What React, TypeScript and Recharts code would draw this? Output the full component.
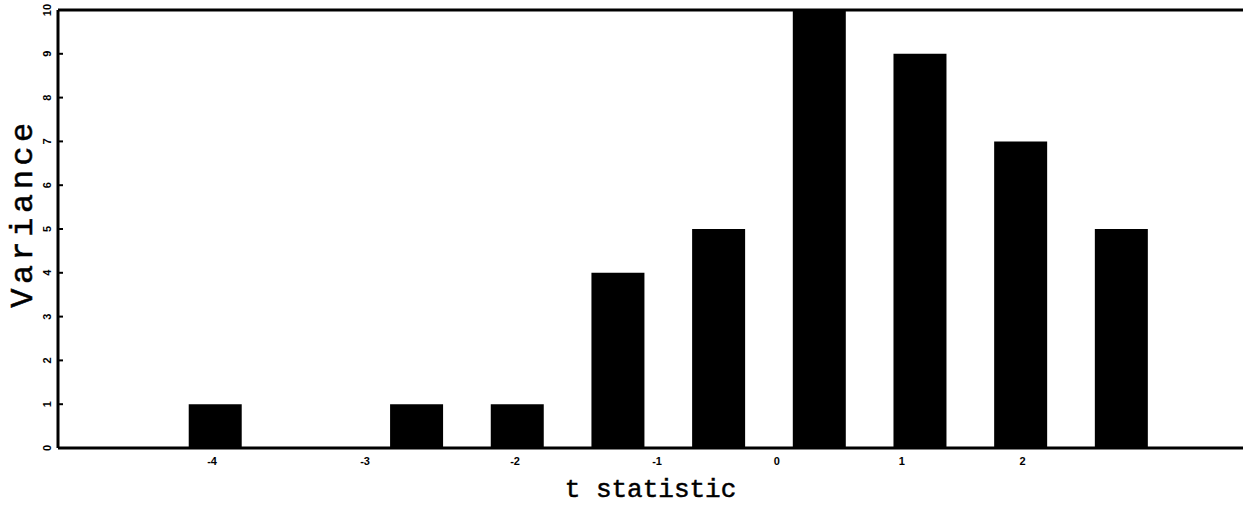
import React from 'react';
import { BarChart, Bar, XAxis, YAxis, ReferenceLine } from 'recharts';

// Bins are drawn at evenly spaced slots (0..9), as in the original figure
const binSlots = [0, 1, 2, 3, 4, 5, 6, 7, 8, 9];
const varianceValues = [1, 0, 1, 1, 4, 5, 10, 9, 7, 5];

// t-statistic tick labels and where they fall in slot units
const xTickSlots = [-0.03, 1.49, 2.98, 4.39, 5.58, 6.82, 8.02];
const xTickLabels = ['-4', '-3', '-2', '-1', '0', '1', '2'];

const yTicks = [0, 1, 2, 3, 4, 5, 6, 7, 8, 9, 10];

const data = binSlots.map((slot, i) => ({ slot, variance: varianceValues[i] }));

const XTick = (props: any) => {
  const { x, y, payload } = props;
  const idx = xTickSlots.indexOf(payload.value);
  return (
    <text
      x={x}
      y={y}
      dy={9}
      textAnchor="middle"
      fontSize={11}
      fontWeight="bold"
      fontFamily="Liberation Sans"
      fill="#000"
    >
      {idx >= 0 ? xTickLabels[idx] : ''}
    </text>
  );
};

const YTick = (props: any) => {
  const { x, y, payload } = props;
  const lx = x - 3;
  return (
    <g>
      <line x1={x + 8} x2={x + 13} y1={y} y2={y} stroke="#000" strokeWidth={2} />
      <text
        x={lx}
        y={y}
        transform={`rotate(-90, ${lx}, ${y})`}
        textAnchor="middle"
        dominantBaseline="central"
        fontSize={11}
        fontWeight="bold"
        fontFamily="Liberation Sans"
        fill="#000"
      >
        {payload.value}
      </text>
    </g>
  );
};

const YTitle = (props: any) => {
  const vb = props.viewBox || { x: 0, y: 10, width: 58, height: 438 };
  const cx = vb.x + 32;
  const cy = vb.y + vb.height / 2 - 16;
  return (
    <text
      x={cx}
      y={cy}
      transform={`rotate(-90, ${cx}, ${cy})`}
      textAnchor="middle"
      fontSize={32}
      letterSpacing={4.5}
      fontFamily="Liberation Mono"
      fill="#000"
      stroke="#000"
      strokeWidth={0.5}
    >
      Variance
    </text>
  );
};

export default function App() {
  return (
    <div style={{ position: 'absolute', left: 0, top: 0, background: '#fff' }}>
      <BarChart
        width={1243}
        height={506}
        data={data}
        margin={{ top: 10, right: 0, bottom: 0, left: 0 }}
      >
        <XAxis
          dataKey="slot"
          type="number"
          domain={[-1.56, 10.21]}
          ticks={xTickSlots}
          allowDataOverflow
          height={58}
          axisLine={{ stroke: '#000', strokeWidth: 3 }}
          tickLine={false}
          tick={<XTick />}
          interval={0}
          label={{
            value: 't statistic',
            position: 'insideBottom',
            offset: 9,
            fontSize: 26,
            fontFamily: 'Liberation Mono',
            fill: '#000',
            stroke: '#000',
            strokeWidth: 0.5,
          }}
        />
        <YAxis
          type="number"
          domain={[0, 10]}
          ticks={yTicks}
          width={58}
          interval={0}
          axisLine={{ stroke: '#000', strokeWidth: 3 }}
          tickLine={false}
          tick={<YTick />}
          label={{ content: <YTitle /> }}
        />
        <ReferenceLine y={10} stroke="#000" strokeWidth={3} ifOverflow="visible" />
        <Bar dataKey="variance" fill="#000" barSize={53} isAnimationActive={false} />
      </BarChart>
    </div>
  );
}
